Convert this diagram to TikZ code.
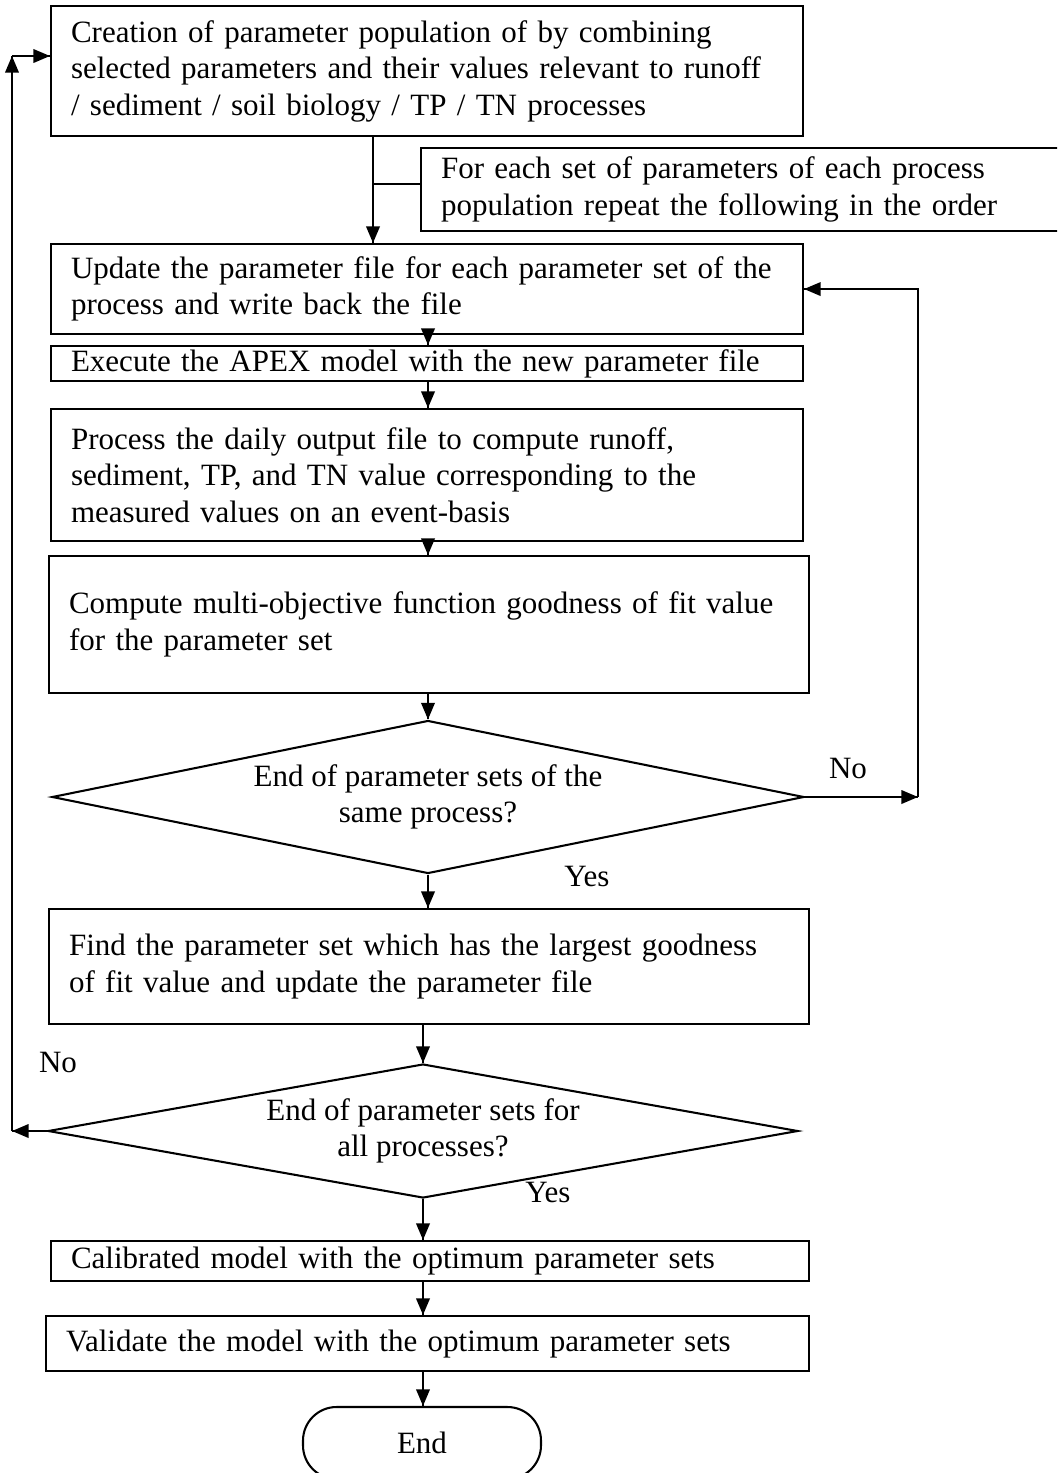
\documentclass[tikz,border=0pt]{standalone}
\usepackage{fontspec}
\setmainfont{Liberation Serif}
\usetikzlibrary{shapes.geometric,arrows.meta,decorations.markings}
\tikzset{->/.style = {decoration={markings, mark=at position 1 with {\arrow[scale=1]{Triangle[width=5.2pt,length=6.4pt]}}}, postaction={decorate}}}
\newcommand{\pxu}{0.3871pt}

\begin{document}
\begin{tikzpicture}[
    x=\pxu, y=-\pxu,
    line width=0.8pt,
    font=\fontsize{12}{14.1}\selectfont,
    procbox/.style={
        draw, rectangle, anchor=north west, align=left,
        inner xsep=20*\pxu, inner ysep=0pt,
        minimum width=#1*\pxu, text width=(#1-40)*\pxu},
    decision/.style={
        draw, diamond, inner sep=0pt, shape aspect=5.6, align=center},
    terminal/.style={
        draw, rectangle, rounded corners=13pt, align=center},
    answer/.style={inner sep=0pt},
    ]

    % Page
    \clip (0,0) rectangle (1057,1473);

    % Process boxes
    \node[procbox=752, minimum height=130*\pxu] (create) at (50,5)
        {Creation of parameter population of by combining\\
         selected parameters and their values relevant to runoff\\
         / sediment / soil biology / TP / TN processes};
    \node[procbox=680, minimum height=83*\pxu] (note) at (420,147)
        {For each set of parameters of each process\\
         population repeat the following in the order};
    \node[procbox=752, minimum height=90*\pxu] (update) at (50,243)
        {Update the parameter file for each parameter set of the\\
         process and write back the file};
    \node[procbox=752, minimum height=35*\pxu] (exec) at (50,345)
        {Execute the APEX model with the new parameter file};
    \node[procbox=752, minimum height=132*\pxu] (proc) at (50,408)
        {Process the daily output file to compute runoff,\\
         sediment, TP, and TN value corresponding to the\\
         measured values on an event-basis};
    \node[procbox=760, minimum height=137*\pxu] (good) at (48,555)
        {Compute multi-objective function goodness of fit value\\
         for the parameter set};

    % Decision on the same process
    \node[decision, minimum width=752*\pxu, minimum height=153*\pxu] (d1) at (428,797)
        {End of parameter sets of the\\same process?};
    \node[procbox=760, minimum height=115*\pxu] (find) at (48,908)
        {Find the parameter set which has the largest goodness\\
         of fit value and update the parameter file};

    % Decision on all processes
    \node[decision, minimum width=750*\pxu, minimum height=134*\pxu] (d2) at (423,1131)
        {End of parameter sets for\\all processes?};
    \node[procbox=758, minimum height=40*\pxu] (calib) at (50,1240)
        {Calibrated model with the optimum parameter sets};
    \node[procbox=763, minimum height=55*\pxu] (valid) at (45,1315)
        {Validate the model with the optimum parameter sets};
    \node[terminal, minimum width=238*\pxu, minimum height=72*\pxu] (stop) at (422,1443) {End};

    % Answers
    \node[answer] (no1) at (848,768) {No};
    \node[answer] (yes1) at (587,876) {Yes};
    \node[answer] (no2) at (58,1062) {No};
    \node[answer] (yes2) at (548,1192) {Yes};

    % Turning points
    \coordinate (split) at (373,184);
    \coordinate (noright) at (918,797);
    \coordinate (backleft) at (12,1131);
    \coordinate (backtop) at (12,56);

    % Main flow
    \draw[->] (create.south -| split) -- (update.north -| split);
    \draw (split) -- (split -| note.west);
    \draw[->] (update.south -| d1) -- (exec.north -| d1);
    \draw[->] (exec.south -| d1) -- (proc.north -| d1);
    \draw[->] (proc.south -| d1) -- (good.north -| d1);
    \draw[->] (good.south -| d1) -- (d1.north);
    \draw[->] (d1.south) -- (find.north -| d1);
    \draw[->] (find.south -| d2) -- (d2.north);
    \draw[->] (d2.south) -- (calib.north -| d2);
    \draw[->] (calib.south -| d2) -- (valid.north -| d2);
    \draw[->] (valid.south -| d2) -- (stop.north -| d2);

    % Loop over parameter sets
    \draw[->] (d1.east) -- (noright);
    \draw[->] (noright) |- (update.east);

    % Loop over processes
    \draw[->] (d2.west) -- (backleft);
    \draw[->] (backleft) -- (backtop);
    \draw[->] (backtop) -- (backtop -| create.west);

\end{tikzpicture}
\end{document}
